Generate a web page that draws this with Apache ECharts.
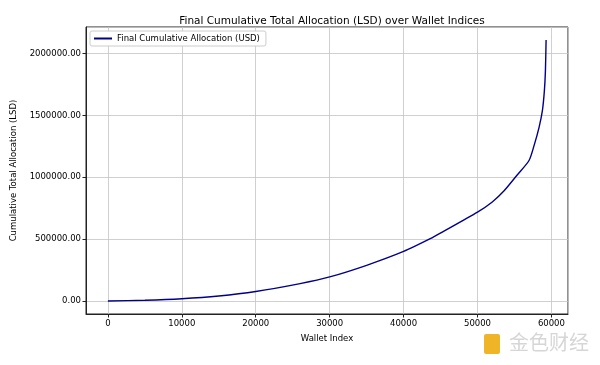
<!DOCTYPE html>
<html>
<head>
<meta charset="utf-8">
<script src="https://cdn.jsdelivr.net/npm/echarts@6/dist/echarts.min.js"></script>
<style>html,body{margin:0;padding:0;background:#fff}#c{width:600px;height:365px}</style>
</head>
<body>
<div id="c"></div>
<script>
const walletIndex = [0, 5000, 10000, 15000, 20000, 26000, 30000, 35000, 40000, 43680, 45030, 50000, 52000, 53600, 55400, 56970, 57650, 58330, 58780, 59050, 59190, 59280];
const allocation = [0, 6000, 18000, 40000, 76000, 140000, 194000, 288000, 400000, 505000, 550000, 718000, 800000, 890000, 1020000, 1135000, 1255000, 1403000, 1538000, 1699000, 1861000, 2108000];
const seriesName = 'Final Cumulative Allocation (USD)';
const titleText = 'Final Cumulative Total Allocation (LSD) over Wallet Indices';
const xName = 'Wallet Index';
const yName = 'Cumulative Total Allocation (LSD)';

const xMax = Math.max(...walletIndex), yMax = Math.max(...allocation);
const xPad = xMax * 0.05, yPad = yMax * 0.05;

const chart = echarts.init(document.getElementById('c'));
const font = 'DejaVu Sans';
chart.setOption({
  animation: false,
  backgroundColor: '#fff',
  textStyle: {fontFamily: font},
  title: {text: titleText, left: 327, top: 11, textAlign: 'center',
    textStyle: {fontFamily: font, fontSize: 10.5, fontWeight: 'normal', color: '#000'}},
  legend: {left: 90, top: 31, data: [seriesName], itemWidth: 18, itemHeight: 2, itemGap: 6,
    icon: 'rect', backgroundColor: '#fff', borderColor: '#ccc', borderWidth: 1, borderRadius: 2,
    padding: [3, 6, 3, 4],
    textStyle: {fontFamily: font, fontSize: 8.5, color: '#000'}},
  grid: {left: 86, right: 32, top: 27, bottom: 51, show: true, borderColor: '#222', borderWidth: 1, containLabel: false},
  xAxis: {type: 'value', min: -xPad, max: xMax + xPad, splitNumber: 7,
    name: xName, nameLocation: 'middle', nameGap: 20,
    nameTextStyle: {fontFamily: font, fontSize: 8.5, color: '#000'},
    axisLine: {show: true, onZero: false, lineStyle: {color: '#222', width: 1}},
    axisTick: {show: true, length: 3.5, lineStyle: {color: '#222'}},
    axisLabel: {showMinLabel: false, showMaxLabel: false, fontFamily: font, fontSize: 8.5, color: '#000', margin: 5,
      formatter: v => String(v)},
    splitLine: {show: true, lineStyle: {color: '#c4c4c4', width: 0.8}}},
  yAxis: {type: 'value', min: -yPad, max: yMax + yPad, splitNumber: 5,
    name: yName, nameLocation: 'middle', nameGap: 64,
    nameTextStyle: {fontFamily: font, fontSize: 8.5, color: '#000'},
    axisLine: {show: true, onZero: false, lineStyle: {color: '#222', width: 1}},
    axisTick: {show: true, length: 3.5, lineStyle: {color: '#222'}},
    axisLabel: {showMinLabel: false, showMaxLabel: false, fontFamily: font, fontSize: 8.5, color: '#000', margin: 5,
      formatter: v => v.toFixed(2)},
    splitLine: {show: true, lineStyle: {color: '#c4c4c4', width: 0.8}}},
  series: [{name: seriesName, type: 'line', showSymbol: false, smooth: 0.25,
    lineStyle: {color: '#00008b', width: 1.4}, itemStyle: {color: '#00008b'},
    data: walletIndex.map((x, i) => [x, allocation[i]])}],
  graphic: [
    {type: 'rect', left: 484, top: 334, shape: {width: 16, height: 20, r: 2}, style: {fill: '#f0b429'}},
    {type: 'text', left: 509, top: 332, style: {text: '金色财经', font: '20px "Noto Sans CJK SC"', fill: '#d6d6d6'}}
  ]
});
</script>
</body>
</html>
